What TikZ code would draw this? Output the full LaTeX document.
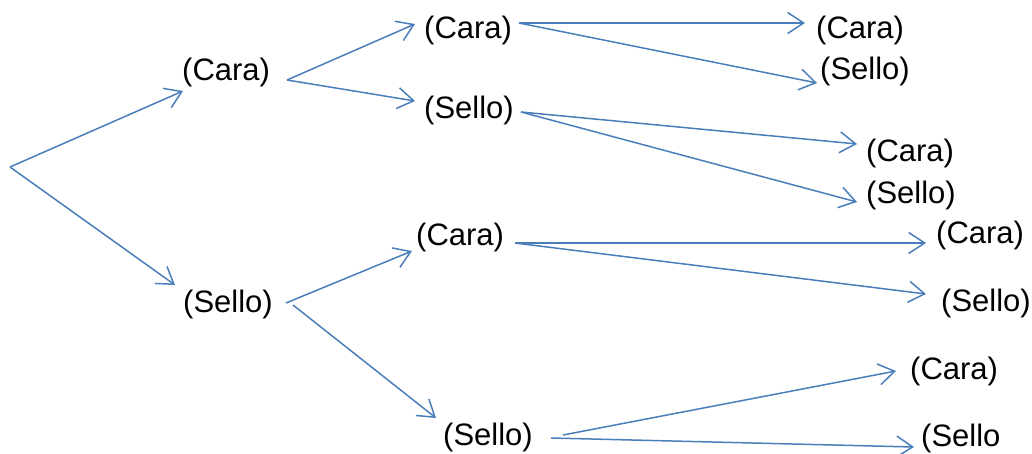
\documentclass[tikz,border=0pt]{standalone}
\usepackage{fontspec}
\setmainfont{Liberation Sans}
\usetikzlibrary{arrows.meta}
\definecolor{lineblue}{RGB}{74,126,187}
\begin{document}
\begin{tikzpicture}[x=1pt,y=-1pt,
  lbl/.style={anchor=west,inner sep=0pt,font=\fontsize{31}{37}\selectfont},
  conn/.style={draw=lineblue,line width=1.5pt,-{Straight Barb[length=16pt,width=21pt,line width=1.5pt]}}]
\useasboundingbox (0,0) rectangle (1032,453);
% labels
\node[lbl] (c1) at (182,72) {(Cara)};
\node[lbl] (s1) at (183,304) {(Sello)};
\node[lbl] (c2) at (424,30) {(Cara)};
\node[lbl] (s2) at (424,110) {(Sello)};
\node[lbl] (c2b) at (416,237) {(Cara)};
\node[lbl] (s2b) at (443,437) {(Sello)};
\node[lbl] (c3) at (816,30) {(Cara)};
\node[lbl] (s3) at (820,71) {(Sello)};
\node[lbl] (c3b) at (866,153) {(Cara)};
\node[lbl] (s3b) at (866,195) {(Sello)};
\node[lbl] (c3c) at (936,235) {(Cara)};
\node[lbl] (s3c) at (941,303) {(Sello)};
\node[lbl] (c3d) at (910,371) {(Cara)};
\node[lbl] (s3d) at (921,438) {(Sello};
% connector ends
\coordinate (root) at (10,167);
\coordinate (c1in) at (183,91);
\coordinate (s1in) at (175,285);
\coordinate (c1out) at (287,80);
\coordinate (c2in) at (415,24);
\coordinate (s2in) at (415,101);
\coordinate (s1outa) at (286,303);
\coordinate (s1outb) at (293,305);
\coordinate (c2bin) at (412,251);
\coordinate (s2bin) at (436,418);
\coordinate (c2out) at (519,23);
\coordinate (c3in) at (805,23);
\coordinate (s3in) at (817,83);
\coordinate (s2out) at (521,112);
\coordinate (c3bin) at (857,144);
\coordinate (s3bin) at (857,202);
\coordinate (c2bout) at (515,243);
\coordinate (c3cin) at (926,243);
\coordinate (s3cin) at (926,294);
\coordinate (s2bouta) at (563,435);
\coordinate (s2boutb) at (551,438);
\coordinate (c3din) at (896,371);
\coordinate (s3din) at (914,447);
% connectors
\draw[conn] (root) -- (c1in);
\draw[conn] (root) -- (s1in);
\draw[conn] (c1out) -- (c2in);
\draw[conn] (c1out) -- (s2in);
\draw[conn] (s1outa) -- (c2bin);
\draw[conn] (s1outb) -- (s2bin);
\draw[conn] (c2out) -- (c3in);
\draw[conn] (c2out) -- (s3in);
\draw[conn] (s2out) -- (c3bin);
\draw[conn] (s2out) -- (s3bin);
\draw[conn] (c2bout) -- (c3cin);
\draw[conn] (c2bout) -- (s3cin);
\draw[conn] (s2bouta) -- (c3din);
\draw[conn] (s2boutb) -- (s3din);
\end{tikzpicture}
\end{document}
